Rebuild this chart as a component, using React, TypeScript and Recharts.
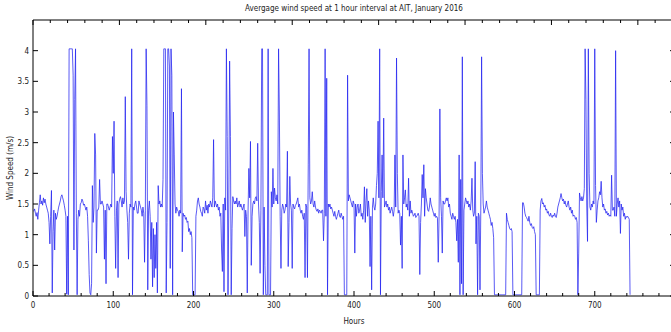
import React from 'react';
import { LineChart, Line, XAxis, YAxis } from 'recharts';

const TITLE = 'Avergage wind speed at 1 hour interval at AIT, January 2016';
const X_LABEL = 'Hours';
const Y_LABEL = 'Wind Speed (m/s)';

// hourly average wind speed (m/s), one array per week
const week1 = [
  1.38, 1.42, 1.35, 1.30, 1.36, 1.25, 1.40, 1.52, 1.65, 1.50,
  1.55, 1.48, 1.60, 1.52, 1.58, 1.50, 1.45, 1.40, 1.35, 1.20,
  0.85, 1.30, 1.72, 0.05, 1.05, 1.40, 0.75, 1.35, 1.25, 1.30,
  1.38, 1.45, 1.50, 1.55, 1.62, 1.65, 1.60, 1.55, 1.48, 1.40,
  1.30, 0.03, 1.30, 0.02, 4.03, 4.03, 4.03, 4.03, 4.03, 3.60,
  0.75, 3.20, 4.03, 1.35, 0.02, 1.25, 1.40, 1.30, 1.50, 1.52,
  1.58, 1.55, 1.48, 1.50, 1.45, 1.40, 1.45, 1.30, 0.90, 0.35,
  0.05, 0.02, 0.20, 1.80, 1.20, 1.45, 2.65, 2.30, 0.70, 1.40,
  1.40, 1.45, 1.90, 1.50, 1.50, 1.55, 1.50, 1.45, 0.60, 1.40,
  0.20, 1.50, 1.50, 1.45, 1.40, 1.45, 1.50, 1.45, 2.60, 2.00,
  2.85, 1.30, 0.45, 1.40, 1.55, 0.30, 1.50, 1.58, 1.62, 1.55,
  1.45, 1.60, 1.50, 1.55, 3.25, 1.70, 1.40, 1.20, 0.60, 1.35,
  1.50, 1.45, 4.03, 0.02, 1.45, 1.40, 1.50, 1.55, 1.45, 1.35,
  1.35, 1.55, 1.50, 1.45, 1.40, 1.30, 1.45, 1.35, 0.55, 1.40,
  4.03, 3.10, 0.10, 1.40, 1.55, 1.30, 0.60, 1.20, 0.15, 1.10,
  0.30, 1.00, 0.45, 1.20, 0.05, 1.80, 1.50, 1.55, 1.45, 1.50,
  1.45, 1.90, 4.03, 4.03, 4.03, 0.05, 1.20, 4.03,
];

const week2 = [
  4.03, 3.75,
  0.45, 4.03, 3.60, 0.02, 3.00, 2.30, 1.50, 1.35, 1.45, 1.40,
  1.38, 1.30, 1.40, 1.35, 3.38, 0.72, 1.35, 1.30, 1.32, 1.25,
  1.28, 1.20, 1.22, 1.05, 1.10, 1.00, 1.05, 0.95, 0.02, 0.02,
  0.02, 0.02, 1.30, 1.40, 1.55, 1.60, 1.50, 1.45, 1.38, 1.35,
  1.30, 1.45, 1.42, 1.35, 1.55, 1.40, 1.48, 1.35, 1.50, 1.45,
  1.55, 1.50, 1.45, 1.60, 2.55, 1.45, 1.55, 1.50, 1.45, 1.50,
  1.40, 1.45, 1.30, 1.35, 0.75, 0.40, 1.50, 0.07, 1.60, 1.40,
  4.03, 2.60, 0.02, 1.50, 3.83, 2.60, 0.02, 1.10, 1.62, 1.55,
  1.50, 1.55, 1.50, 1.60, 1.45, 1.50, 1.55, 1.45, 1.50, 1.45,
  1.40, 1.45, 1.50, 0.97, 1.40, 1.30, 0.05, 1.40, 2.08, 1.60,
  2.52, 0.50, 1.30, 1.50, 1.55, 1.50, 1.60, 1.62, 1.55, 2.49,
  1.50, 1.20, 0.37, 1.40, 4.03, 4.03, 0.02, 1.45, 0.50, 0.02,
  0.02, 0.02, 4.03, 0.02, 0.02, 0.02, 1.70, 1.45, 2.08, 1.50,
  1.76, 1.60, 1.55, 1.65, 1.50, 4.03, 3.00, 1.30, 0.45, 1.40,
  1.50, 1.45, 1.35, 1.40, 1.50, 1.45, 2.36, 0.48, 1.20, 1.95,
  1.50, 1.40, 0.45, 1.50, 1.45, 1.42, 1.48, 1.50, 1.55, 1.60,
  1.45, 1.50, 1.40, 1.35, 1.40, 1.30,
];

const week3 = [
  1.25, 1.35, 0.30, 1.50,
  1.45, 0.30, 2.15, 4.03, 1.60, 1.50, 1.55, 1.70, 1.50, 1.45,
  1.55, 1.45, 1.40, 1.38, 1.42, 1.35, 1.40, 1.38, 1.35, 1.40,
  1.40, 0.90, 1.35, 4.03, 1.30, 3.55, 0.02, 1.50, 1.45, 1.50,
  1.42, 1.45, 1.40, 1.35, 1.30, 1.38, 1.30, 1.25, 1.30, 1.35,
  1.40, 1.30, 1.28, 1.35, 1.30, 1.25, 1.30, 0.02, 0.02, 0.02,
  0.02, 3.60, 1.55, 1.65, 1.60, 1.55, 1.50, 1.45, 1.55, 1.50,
  0.70, 1.50, 1.30, 1.45, 1.50, 1.35, 1.40, 1.50, 1.30, 1.35,
  1.25, 1.40, 1.78, 1.20, 1.55, 1.75, 1.30, 1.55, 1.40, 0.48,
  1.30, 0.10, 1.45, 1.60, 1.45, 1.40, 1.50, 1.80, 2.00, 2.85,
  1.60, 4.03, 0.02, 1.70, 2.30, 1.60, 2.90, 1.45, 1.50, 1.55,
  1.45, 1.50, 1.40, 1.45, 1.35, 1.40, 1.45, 1.38, 1.30, 1.40,
  2.30, 1.45, 3.88, 2.00, 1.35, 1.40, 1.35, 0.83, 1.30, 0.45,
  2.30, 1.50, 1.60, 1.73, 1.45, 1.50, 1.40, 1.92, 1.30, 1.55,
  1.35, 1.40, 1.35, 1.30, 1.32, 1.35, 1.28, 1.30, 1.32, 1.35,
  1.30, 0.35, 1.20, 1.50, 1.98, 1.60, 2.14, 1.30, 1.75, 1.60,
  1.50, 1.40, 1.38, 1.45, 1.60, 1.50, 1.45, 1.40, 1.35, 1.30,
  1.35, 1.28, 1.30, 1.27,
];

const week4 = [
  0.55, 1.30, 3.05, 1.60, 1.30, 0.70,
  1.55, 1.50, 1.50, 1.55, 1.60, 1.55, 1.60, 1.45, 1.50, 1.35,
  1.30, 1.25, 1.35, 1.30, 1.25, 1.30, 1.20, 0.90, 1.25, 0.55,
  2.30, 0.02, 1.90, 0.20, 3.90, 0.02, 1.40, 1.50, 1.60, 1.55,
  1.50, 1.55, 1.45, 1.50, 1.40, 1.55, 1.92, 1.40, 1.30, 1.35,
  2.19, 0.85, 1.30, 0.02, 1.35, 1.30, 0.10, 1.40, 3.90, 2.00,
  1.50, 1.35, 1.40, 1.45, 1.55, 1.45, 1.40, 1.35, 1.30, 1.25,
  1.15, 1.20, 1.10, 0.95, 0.02, 0.02, 0.02, 0.02, 0.02, 0.02,
  0.02, 0.02, 0.02, 0.02, 0.02, 0.02, 0.02, 0.02, 0.02, 1.35,
  1.25, 1.20, 1.15, 1.10, 1.08, 1.10, 1.05, 0.02, 0.02, 0.02,
  0.02, 0.02, 0.02, 0.02, 0.02, 0.02, 0.02, 0.02, 0.02, 1.52,
  1.52, 1.45, 1.35, 1.30, 1.28, 1.25, 1.22, 1.30, 1.20, 1.15,
  1.18, 1.12, 1.10, 1.13, 1.05, 1.00, 0.02, 0.02, 0.02, 0.02,
  0.02, 1.40, 1.55, 1.59, 1.50, 1.52, 1.45, 1.48, 1.40, 1.42,
  1.35, 1.38, 1.32, 1.30, 1.35, 1.30, 1.28, 1.32, 1.30, 1.35,
  1.30, 1.28, 1.35, 1.45, 1.50, 1.55, 1.60, 1.67, 1.60, 1.55,
  1.58, 1.50, 1.55, 1.48, 1.45, 1.50, 1.55, 1.45, 1.40, 1.45,
  1.35, 1.40,
];

const week5 = [
  1.30, 1.32, 1.30, 1.25, 1.28, 1.20, 0.02, 0.70,
  1.68, 1.60, 1.55, 1.62, 1.55, 1.60, 1.75, 4.03, 3.20, 1.50,
  0.89, 4.03, 2.00, 1.45, 1.40, 1.50, 1.45, 1.55, 1.50, 4.03,
  1.80, 1.20, 1.40, 1.55, 1.60, 1.70, 1.65, 1.87, 1.60, 1.45,
  1.50, 1.40, 1.42, 1.35, 1.38, 1.32, 1.35, 1.30, 1.32, 1.30,
  1.97, 1.40, 1.40, 1.45, 1.30, 4.00, 1.30, 1.50, 1.60, 1.45,
  1.55, 1.02, 1.50, 1.40, 1.45, 1.30, 1.35, 1.25, 1.30, 1.28,
  1.30, 1.28, 1.25, 0.02,
];

const speeds = [...week1, ...week2, ...week3, ...week4, ...week5];
const data = speeds.map((speed, i) => ({ hour: i + 1, speed }));

const xLabelled = [0, 100, 200, 300, 400, 500, 600, 700];
const xTicks = [
  0, 20, 40, 60, 80, 100, 120, 140, 160, 180, 200, 220, 240, 260, 280, 300,
  320, 340, 360, 380, 400, 420, 440, 460, 480, 500, 520, 540, 560, 580, 600,
  620, 640, 660, 680, 700, 720, 740, 760, 780, 800,
];
const yTicks = [0, 0.5, 1, 1.5, 2, 2.5, 3, 3.5, 4];

const FONT = '"Liberation Sans Narrow", "DejaVu Sans Condensed", Arial, sans-serif';
const INK = '#222';

const BottomTick = (props: any) => {
  const { x, y, payload } = props;
  const v = payload.value;
  const major = v % 100 === 0;
  return (
    <g>
      <line x1={x} x2={x} y1={y} y2={y - (major ? 5 : 3)} stroke="#000" />
      {xLabelled.includes(v) && (
        <text x={x} y={y + 12} textAnchor="middle" fontSize={8} fontFamily={FONT} fill={INK}>
          {v}
        </text>
      )}
    </g>
  );
};

const TopTick = (props: any) => {
  const { x, y, payload } = props;
  const major = payload.value % 100 === 0;
  return <line x1={x} x2={x} y1={y} y2={y + (major ? 5 : 3)} stroke="#000" />;
};

const LeftTick = (props: any) => {
  const { x, y, payload } = props;
  return (
    <g>
      <line x1={x} x2={x + 5} y1={y} y2={y} stroke="#000" />
      <text x={x - 4} y={y + 3} textAnchor="end" fontSize={8} fontFamily={FONT} fill={INK}>
        {payload.value}
      </text>
    </g>
  );
};

const RightTick = (props: any) => {
  const { x, y } = props;
  return <line x1={x} x2={x - 5} y1={y} y2={y} stroke="#000" />;
};

export default function App() {
  return (
    <div
      style={{
        position: 'fixed',
        left: 0,
        top: 0,
        width: 671,
        height: 332,
        overflow: 'hidden',
        background: '#fff',
      }}
    >
      <LineChart width={680} height={332} data={data} margin={{ top: 0, right: 0, bottom: 0, left: 0 }}>
        <XAxis
          dataKey="hour"
          type="number"
          domain={[0, 800]}
          ticks={xTicks}
          interval={0}
          height={36}
          tickSize={0}
          tickMargin={0}
          tickLine={false}
          stroke="#000"
          tick={<BottomTick />}
          allowDataOverflow
        />
        <XAxis
          xAxisId="top"
          orientation="top"
          type="number"
          domain={[0, 800]}
          ticks={xTicks}
          interval={0}
          height={20}
          tickSize={0}
          tickMargin={0}
          tickLine={false}
          stroke="#000"
          tick={<TopTick />}
          allowDataOverflow
        />
        <YAxis
          type="number"
          domain={[0, 4.5]}
          ticks={yTicks}
          interval={0}
          width={33}
          tickSize={0}
          tickMargin={0}
          tickLine={false}
          stroke="#000"
          tick={<LeftTick />}
          allowDataOverflow
        />
        <YAxis
          yAxisId="right"
          orientation="right"
          type="number"
          domain={[0, 4.5]}
          ticks={yTicks}
          interval={0}
          width={5}
          tickSize={0}
          tickMargin={0}
          tickLine={false}
          stroke="#000"
          tick={<RightTick />}
          allowDataOverflow
        />
        <Line
          type="linear"
          dataKey="speed"
          stroke="#2323f0"
          strokeWidth={0.75}
          dot={false}
          activeDot={false}
          isAnimationActive={false}
        />
      </LineChart>
      <svg
        width={671}
        height={332}
        style={{ position: 'absolute', left: 0, top: 0, pointerEvents: 'none' }}
      >
        <text x={354} y={11} textAnchor="middle" fontSize={8} fontFamily={FONT} fill={INK}>
          {TITLE}
        </text>
        <text x={354} y={324} textAnchor="middle" fontSize={8} fontFamily={FONT} fill={INK}>
          {X_LABEL}
        </text>
        <text
          x={0}
          y={0}
          transform="translate(13 168) rotate(-90)"
          textAnchor="middle"
          fontSize={8}
          fontFamily={FONT}
          fill={INK}
        >
          {Y_LABEL}
        </text>
      </svg>
    </div>
  );
}
